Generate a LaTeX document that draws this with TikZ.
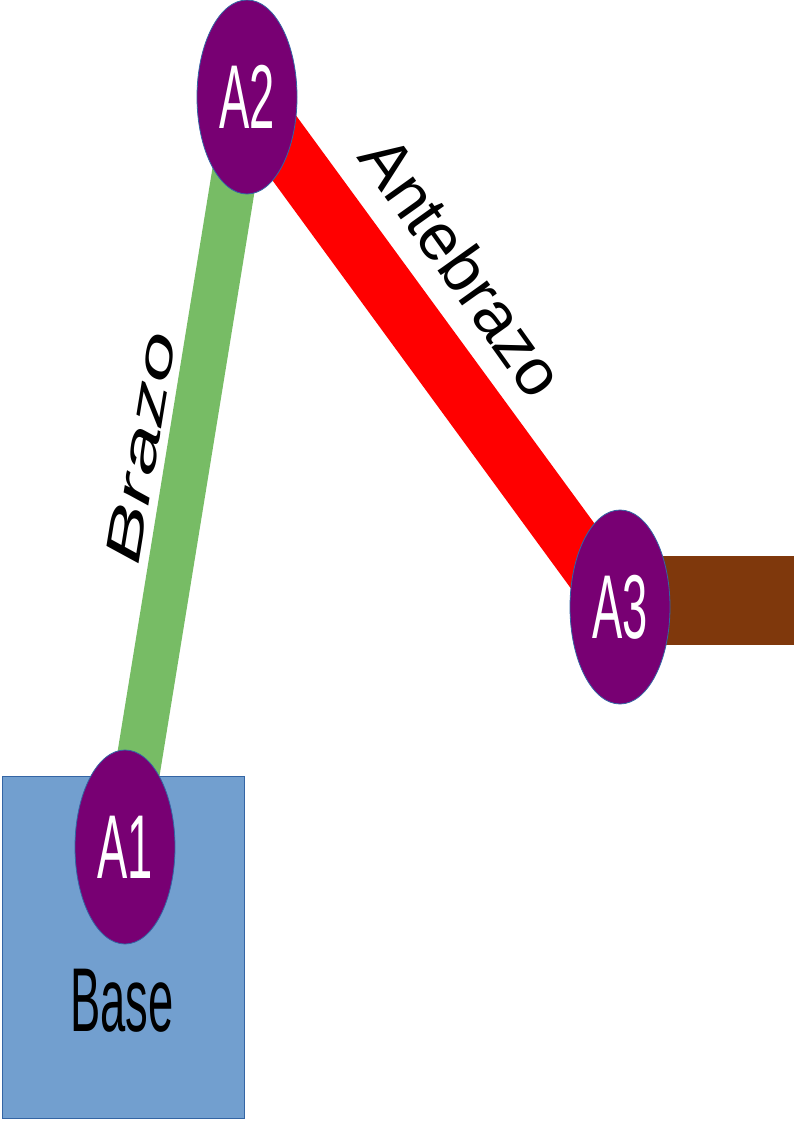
\documentclass[tikz,border=0pt]{standalone}
\usepackage{fontspec}
\setmainfont{Liberation Sans}
\usetikzlibrary{shapes.geometric, positioning}

\definecolor{jointpurple}{RGB}{120,0,115}
\definecolor{jointedge}{RGB}{52,101,164}
\definecolor{armgreen}{RGB}{119,188,101}
\definecolor{armred}{RGB}{255,0,0}
\definecolor{wristbrown}{RGB}{127,56,12}
\definecolor{basefill}{RGB}{114,159,207}

\pgfdeclarelayer{back}
\pgfdeclarelayer{bars}
\pgfsetlayers{back,bars,main}

\newcommand{\narrow}[1]{\scalebox{0.5}[1]{#1}}

\begin{document}
\begin{tikzpicture}[x=0.75pt, y=-0.75pt,
  joint/.style={ellipse, draw=jointedge, line width=0.6pt, fill=jointpurple, minimum width=75pt, minimum height=145.5pt, inner sep=0pt, text=white, font=\fontsize{68}{68}\selectfont},
  basebox/.style={draw=jointedge, line width=0.6pt, fill=basefill, minimum width=182pt, minimum height=256.5pt, inner sep=0pt},
  link/.style={line width=#1, line cap=butt},
  armlabel/.style={inner sep=0pt}]
\useasboundingbox (0,0) rectangle (794,1123);

% base and joints
\begin{pgfonlayer}{back}
\node[basebox] (base) at (123.5,947) {};
\end{pgfonlayer}
\node[armlabel, font=\fontsize{68}{68}\selectfont] (baselbl) at (122,1001) {\narrow{Base}};
\node[joint] (A1) at (125,847) {\narrow{A1}};
\node[joint] (A2) at (247,97) {\narrow{A2}};
\node[joint] (A3) at (620,607) {\narrow{A3}};

% links
\begin{pgfonlayer}{bars}
\draw[armgreen, link=34pt] (A1.center) -- (A2.center);
\draw[armred, link=43pt] (A2.center) -- (A3.center);
\fill[wristbrown] (A3.center |- 0,556) rectangle (794,645);
\end{pgfonlayer}

% labels
\node[armlabel, rotate=80.7, font=\fontsize{37.5}{37.5}\selectfont\itshape] (brazo) at (141,448) {\scalebox{1.8}[1]{Brazo}};
\node[armlabel, rotate=-54.5, font=\fontsize{49.5}{49.5}\selectfont] (antebrazo) at (463,266) {Antebrazo};
\end{tikzpicture}
\end{document}
